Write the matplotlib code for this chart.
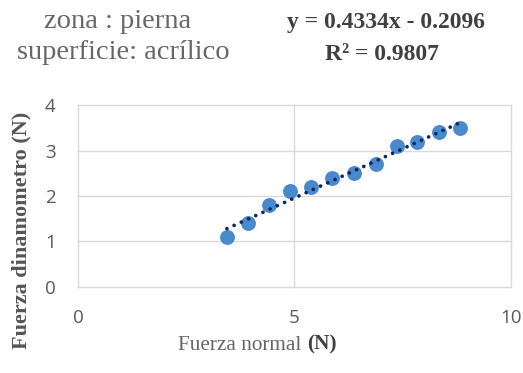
import numpy as np
import matplotlib
matplotlib.use('Agg')
import matplotlib.pyplot as plt

# data
fuerza_normal = [3.44, 3.93, 4.42, 4.90, 5.38, 5.87, 6.38, 6.88, 7.37, 7.84, 8.34, 8.83]
fuerza_dinam = [1.10, 1.40, 1.80, 2.10, 2.20, 2.40, 2.50, 2.70, 3.10, 3.20, 3.40, 3.50]
slope, intercept = 0.4334, -0.2096
xticks = [0, 5, 10]
yticks = [0, 1, 2, 3, 4]

fig = plt.figure(figsize=(5.23, 3.73), dpi=100)
ax = fig.add_axes([0.149, 0.231, 0.828, 0.487])

ax.set_xlim(0, 10)
ax.set_ylim(0, 4)
ax.set_xticks(xticks)
ax.set_yticks(yticks)
for s in ax.spines.values():
    s.set_visible(False)
ax.grid(True, color='#d9d9d9', lw=1)
for gl in ax.get_xgridlines() + ax.get_ygridlines():
    gl.set_clip_on(False)
ax.tick_params(length=0, labelsize=13.5, labelcolor='#595959', pad=16)
for lab in ax.get_xticklabels() + ax.get_yticklabels():
    lab.set_family('Open Sans')

ax.scatter(fuerza_normal, fuerza_dinam, s=115, color='#4a89cc', zorder=3, linewidths=0)
xt = np.array([fuerza_normal[0], fuerza_normal[-1]])
ax.plot(xt, slope * xt + intercept, color='#102766', lw=2.7, ls=(0, (0.01, 2.1)),
        dash_capstyle='round', zorder=4)

# headings
fig.text(0.225, 0.925, 'zona : pierna', family='Liberation Serif', fontsize=20.5,
         color='#666666', ha='center', va='baseline')
fig.text(0.235, 0.843, 'superficie: acrílico', family='Liberation Serif', fontsize=20.5,
         color='#666666', ha='center', va='baseline')
fig.text(0.738, 0.925, f'y = {slope:.4f}x - {abs(intercept):.4f}', family='Liberation Serif',
         fontsize=17, weight='bold', color='#404040', ha='center', va='baseline')
fig.text(0.731, 0.84, 'R² = 0.9807', family='Liberation Serif',
         fontsize=17, weight='bold', color='#404040', ha='center', va='baseline')

fig.text(0.042, 0.383, 'Fuerza dinamometro (N)', family='Liberation Serif', fontsize=16,
         weight='bold', color='#555555', rotation=90, ha='center', va='center')
fig.text(0.587, 0.062, 'Fuerza normal ', family='Liberation Serif', fontsize=15.3,
         color='#666666', ha='right', va='baseline')
fig.text(0.587, 0.062, '(N)', family='Liberation Serif', fontsize=15.3, weight='bold',
         color='#404040', ha='left', va='baseline')

fig.savefig('out.png', dpi=100)
